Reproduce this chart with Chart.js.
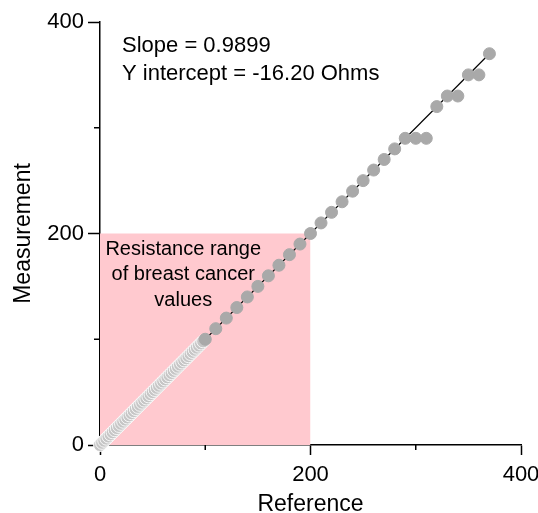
<!DOCTYPE html>
<html>
<head>
<meta charset="utf-8">
<script src="https://cdn.jsdelivr.net/npm/chart.js@4/dist/chart.umd.min.js"></script>
<style>
  html, body { margin: 0; padding: 0; background: #ffffff; }
  #wrap { width: 538px; height: 513px; position: relative; }
</style>
</head>
<body>
<div id="wrap"><canvas id="c" width="538" height="513"></canvas></div>
<script>
// ---- data ----
const denseReference   = [0,2,4,6,8,10,12,14,16,18,20,22,24,26,28,30,32,34,36,38,40,42,44,46,48,50,52,54,56,58,60,62,64,66,68,70,72,74,76,78,80,82,84,86,88,90,92,94,96,98];
const denseMeasurement = [0,2,4,6,8,10,12,14,16,18,20,22,24,26,28,30,32,34,36,38,40,42,44,46,48,50,52,54,56,58,60,62,64,66,68,70,72,74,76,78,80,82,84,86,88,90,92,94,96,98];
const sparseReference   = [100,110,120,130,140,150,160,170,180,190,200,210,220,230,240,250,260,270,280,290,300,310,320,330,340,350,360,370];
const sparseMeasurement = [100,110,120,130,140,150,160,170,180,190,200,210,220,230,240,250,260,270,280,290,290,290,320,330,330,350,350,370];
const fitReference   = [0, 370];
const fitMeasurement = [0, 370];
const rangeReference = [0, 200];
const rangeMeasurement = [200, 200];
const tickValues = [0, 100, 200, 300, 400];
const majorTicks = [0, 200, 400];
const minorTicks = [100, 300];
const annotationLines = ['Slope = 0.9899', 'Y intercept = -16.20 Ohms'];
const rangeLabelLines = ['Resistance range', 'of breast cancer', 'values'];

const toXY = (xs, ys) => xs.map((x, i) => ({ x: x, y: ys[i] }));

Chart.defaults.font.family = 'Arial, "Liberation Sans", Helvetica, sans-serif';
Chart.defaults.color = '#000';

const overlayPlugin = {
  id: 'overlay',
  afterDraw(chart) {
    const ctx = chart.ctx;
    const xs = chart.scales.x, ys = chart.scales.y;
    const ca = chart.chartArea;
    ctx.save();
    // minor ticks
    ctx.strokeStyle = '#000';
    ctx.lineWidth = 1.5;
    minorTicks.forEach(v => {
      const px = xs.getPixelForValue(v);
      ctx.beginPath(); ctx.moveTo(px, ca.bottom); ctx.lineTo(px, ca.bottom + 5); ctx.stroke();
      const py = ys.getPixelForValue(v);
      ctx.beginPath(); ctx.moveTo(ca.left - 6, py); ctx.lineTo(ca.left, py); ctx.stroke();
    });
    // annotation texts
    ctx.fillStyle = '#000';
    ctx.textAlign = 'left';
    ctx.textBaseline = 'alphabetic';
    ctx.font = '22px Arial, "Liberation Sans", sans-serif';
    annotationLines.forEach((t, i) => {
      ctx.fillText(t, ca.left + 22, ca.top + 30 + i * 28);
    });
    ctx.font = '20px Arial, "Liberation Sans", sans-serif';
    ctx.textAlign = 'center';
    const cx = (xs.getPixelForValue(0) + xs.getPixelForValue(200)) / 2 - 22;
    const top200 = ys.getPixelForValue(200);
    rangeLabelLines.forEach((t, i) => {
      ctx.fillText(t, cx, top200 + 21 + i * 25.5);
    });
    ctx.restore();
  }
};

new Chart(document.getElementById('c'), {
  type: 'scatter',
  data: {
    datasets: [
      {
        label: 'range',
        data: toXY(rangeReference, rangeMeasurement),
        showLine: true,
        fill: 'origin',
        backgroundColor: '#ffc9cf',
        borderColor: 'rgba(0,0,0,0)',
        borderWidth: 0,
        pointRadius: 0,
        order: 10
      },
      {
        label: 'fit',
        data: toXY(fitReference, fitMeasurement),
        showLine: true,
        borderColor: '#000',
        borderWidth: 1.2,
        pointRadius: 0,
        order: 5
      },
      {
        label: 'dense',
        data: toXY(denseReference, denseMeasurement),
        backgroundColor: '#c6c6c6',
        borderColor: 'rgba(255,255,255,0.85)',
        borderWidth: 1,
        pointRadius: 6.5,
        clip: false,
        order: 2
      },
      {
        label: 'sparse',
        data: toXY(sparseReference, sparseMeasurement),
        backgroundColor: '#a9a9a9',
        borderColor: '#a9a9a9',
        borderWidth: 1,
        pointRadius: 6,
        clip: false,
        order: 1
      }
    ]
  },
  options: {
    responsive: false,
    animation: false,
    events: [],
    layout: { padding: { left: 0, right: 0, top: 22, bottom: 0 } },
    plugins: { legend: { display: false }, tooltip: { enabled: false } },
    scales: {
      x: {
        type: 'linear',
        min: 0, max: 400,
        afterBuildTicks: s => { s.ticks = tickValues.map(v => ({ value: v })); },
        afterFit: s => { s.height = 68; s.paddingRight = 17; },
        border: { display: true, color: '#000', width: 1.5 },
        grid: {
          drawOnChartArea: false,
          tickLength: 10,
          tickWidth: 1.5,
          tickColor: c => (majorTicks.includes(c.tick.value) ? '#000' : 'rgba(0,0,0,0)')
        },
        ticks: {
          font: { size: 22 },
          color: '#000',
          padding: 7,
          maxRotation: 0,
          autoSkip: false,
          callback: v => (majorTicks.includes(v) ? String(v) : '')
        },
        title: {
          display: true,
          text: 'Reference',
          font: { size: 23 },
          color: '#000',
          padding: { top: 0, bottom: -5 }
        }
      },
      y: {
        type: 'linear',
        min: 0, max: 400,
        afterBuildTicks: s => { s.ticks = tickValues.map(v => ({ value: v })); },
        afterFit: s => { s.width = 100; },
        border: { display: true, color: '#000', width: 1.5 },
        grid: {
          drawOnChartArea: false,
          tickLength: 12,
          tickWidth: 1.5,
          tickColor: c => (majorTicks.includes(c.tick.value) ? '#000' : 'rgba(0,0,0,0)')
        },
        ticks: {
          font: { size: 22 },
          color: '#000',
          padding: 4,
          autoSkip: false,
          callback: v => (majorTicks.includes(v) ? String(v) : '')
        },
        title: {
          display: true,
          text: 'Measurement',
          font: { size: 23 },
          color: '#000',
          padding: { top: 10, bottom: 0 }
        }
      }
    }
  },
  plugins: [overlayPlugin]
});
</script>
</body>
</html>
